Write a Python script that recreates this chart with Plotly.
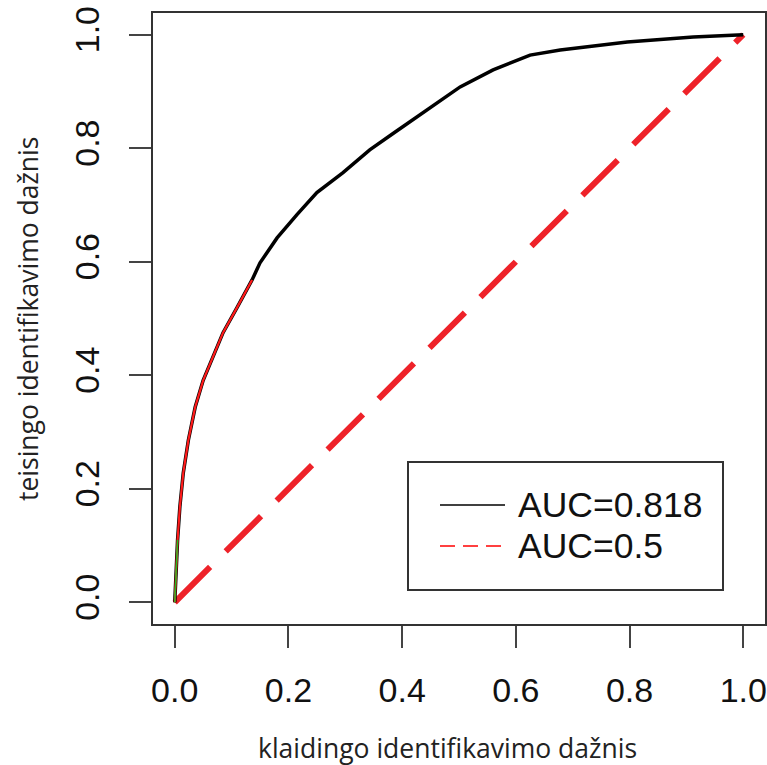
import plotly.graph_objects as go

# ROC curve values
fpr = [0, 0.002, 0.005, 0.009, 0.015, 0.024, 0.036, 0.050, 0.067, 0.085, 0.110, 0.136,
       0.150, 0.180, 0.215, 0.250, 0.296, 0.343, 0.384, 0.444, 0.502, 0.560, 0.625,
       0.678, 0.796, 0.912, 1.0]
tpr = [0, 0.052, 0.11, 0.168, 0.228, 0.286, 0.344, 0.391, 0.432, 0.475, 0.520, 0.568,
       0.598, 0.642, 0.683, 0.722, 0.757, 0.797, 0.826, 0.867, 0.908, 0.938, 0.964,
       0.973, 0.987, 0.996, 1.0]
diag = [0, 1]
names = ['AUC=0.818', 'AUC=0.5']
ticks = [0, 0.2, 0.4, 0.6, 0.8, 1.0]
tick_text = ['0.0', '0.2', '0.4', '0.6', '0.8', '1.0']

W, H = 767, 765
L, R, T, B = 152, 1, 12, 140
pw, ph = W - L - R, H - T - B


def px(x):
    return (x - L) / pw


def py(y):
    return (H - B - y) / ph


fig = go.Figure()
fig.add_trace(go.Scatter(x=diag, y=diag, mode='lines', name=names[1],
                         line=dict(color='#ee2229', width=6, dash='50px,22px')))
fig.add_trace(go.Scatter(x=fpr, y=tpr, mode='lines', name=names[0],
                         line=dict(color='black', width=3.5)))
fig.add_trace(go.Scatter(x=fpr[:12], y=tpr[:12], mode='lines',
                         line=dict(color='#ff1a1a', width=2.2)))
fig.add_trace(go.Scatter(x=fpr[:3], y=tpr[:3], mode='lines',
                         line=dict(color='#22bb22', width=1.5)))

axis = dict(range=[-0.04, 1.04], tickvals=ticks, ticktext=tick_text,
            ticks='outside', ticklen=22, tickwidth=2, tickcolor='#444',
            showgrid=False, zeroline=False, showline=False,
            ticklabeloverflow='allow',
            tickfont=dict(family='Liberation Sans', size=34, color='#111'))
fig.update_xaxes(**axis, ticklabelstandoff=13)
fig.update_yaxes(**axis, tickangle=-90, ticklabelstandoff=16)

shapes = [dict(type='rect', xref='paper', yref='paper', x0=0, x1=1, y0=0, y1=1,
               line=dict(color='#333', width=2))]
# legend box
shapes.append(dict(type='rect', xref='paper', yref='paper',
                   x0=px(408), x1=px(723), y0=py(590), y1=py(462),
                   line=dict(color='#333', width=2), fillcolor='white'))
shapes.append(dict(type='line', xref='paper', yref='paper',
                   x0=px(440), x1=px(505), y0=py(505), y1=py(505),
                   line=dict(color='black', width=1.5)))
shapes.append(dict(type='line', xref='paper', yref='paper',
                   x0=px(440), x1=px(505), y0=py(546), y1=py(546),
                   line=dict(color='#ff4040', width=2, dash='15px,8px')))

annotations = []
for i, yy in enumerate([505, 546]):
    annotations.append(dict(xref='paper', yref='paper', x=px(516), y=py(yy),
                            text=names[i], showarrow=False, xanchor='left',
                            yanchor='middle',
                            font=dict(family='Liberation Sans', size=35.5, color='#111')))
annotations.append(dict(xref='paper', yref='paper', x=px(447), y=py(748),
                        text='klaidingo identifikavimo dažnis', showarrow=False,
                        xanchor='center', yanchor='middle',
                        font=dict(family='Open Sans', size=26.5, color='#222')))
annotations.append(dict(xref='paper', yref='paper', x=px(28), y=py(319),
                        text='teisingo identifikavimo dažnis', showarrow=False,
                        textangle=-90, xanchor='center', yanchor='middle',
                        font=dict(family='Open Sans', size=26.5, color='#222')))

fig.update_layout(width=W, height=H, margin=dict(l=L, r=R, t=T, b=B),
                  plot_bgcolor='white', paper_bgcolor='white', showlegend=False,
                  shapes=shapes, annotations=annotations)
# drop the default page margin so the figure fills the window exactly
fig.write_html('out.html', config={'displayModeBar': False},
               post_script="document.body.style.margin='0';")
